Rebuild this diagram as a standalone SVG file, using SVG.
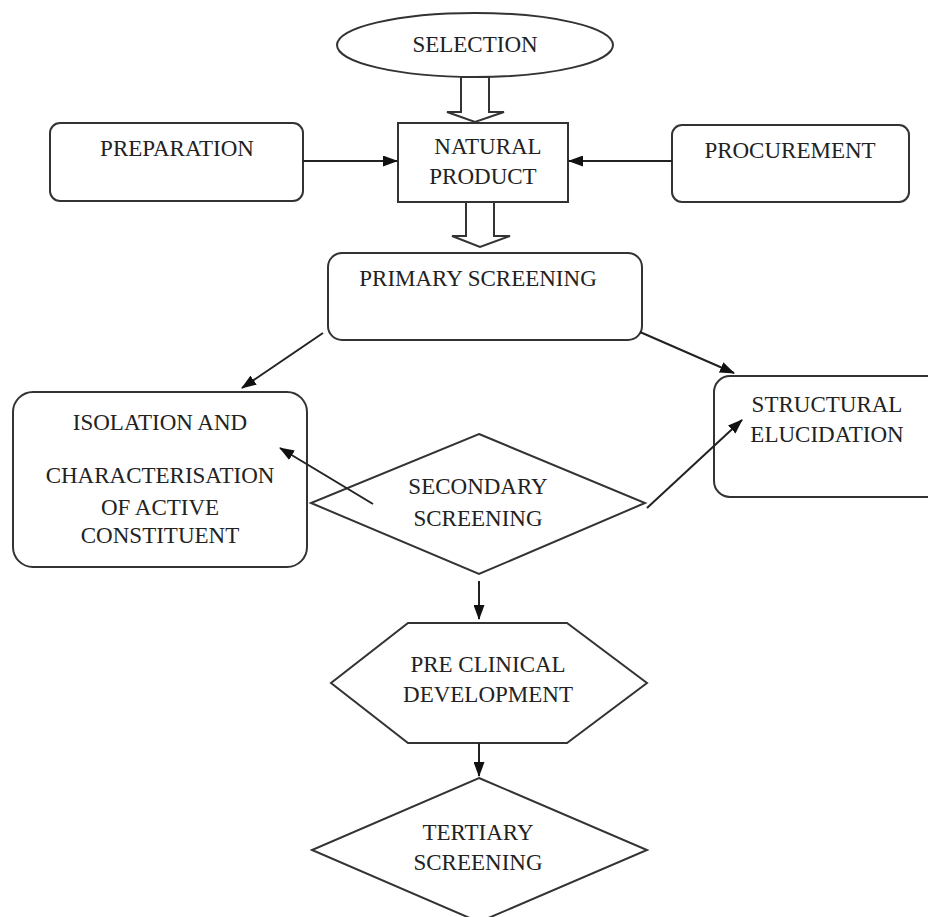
<svg xmlns="http://www.w3.org/2000/svg" width="928" height="917" viewBox="0 0 928 917">
<defs>
<style>
.s{fill:#fff;stroke:#333;stroke-width:2}
.c{fill:none;stroke:#222;stroke-width:2}
.h{fill:#fff;stroke:#333;stroke-width:2;stroke-linejoin:miter}
text{font-family:"Liberation Serif","Times New Roman",serif;font-size:23px;fill:#222;text-anchor:middle}
</style>
<marker id="ah" viewBox="0 0 15 11" refX="14" refY="5.5" markerWidth="15" markerHeight="11" markerUnits="userSpaceOnUse" orient="auto">
<path d="M0,0 L15,5.5 L0,11 Z" fill="#111"/>
</marker>
</defs>
<rect width="928" height="917" fill="#fff"/>
<g id="selection">
<ellipse class="s" cx="475" cy="45" rx="138" ry="32"/>
<text x="475" y="52">SELECTION</text>
</g>
<g id="natural-product">
<rect class="s" x="398" y="123" width="170" height="79"/>
<text x="488" y="154">NATURAL</text>
<text x="483" y="184">PRODUCT</text>
</g>
<g id="preparation">
<rect class="s" x="50" y="123" width="253" height="78" rx="10"/>
<text x="177" y="156">PREPARATION</text>
</g>
<g id="procurement">
<rect class="s" x="672" y="125" width="237" height="77" rx="10"/>
<text x="790" y="158">PROCUREMENT</text>
</g>
<g id="primary-screening">
<rect class="s" x="328" y="253" width="314" height="87" rx="14"/>
<text x="478" y="286">PRIMARY SCREENING</text>
</g>
<g id="isolation">
<rect class="s" x="13" y="392" width="294" height="175" rx="20"/>
<text x="160" y="430">ISOLATION AND</text>
<text x="160" y="483">CHARACTERISATION</text>
<text x="160" y="515">OF ACTIVE</text>
<text x="160" y="543">CONSTITUENT</text>
</g>
<g id="structural">
<rect class="s" x="714" y="376" width="230" height="121" rx="16"/>
<text x="827" y="412">STRUCTURAL</text>
<text x="827" y="442">ELUCIDATION</text>
</g>
<g id="secondary-screening">
<polygon class="s" points="479,434 645,503 479,574 311,503"/>
<text x="478" y="494">SECONDARY</text>
<text x="478" y="526">SCREENING</text>
</g>
<g id="pre-clinical">
<polygon class="s" points="408,623 567,623 647,683 567,743 408,743 331,683"/>
<text x="488" y="672">PRE CLINICAL</text>
<text x="488" y="702">DEVELOPMENT</text>
</g>
<g id="tertiary-screening">
<polygon class="s" points="479,778 647,850 479,922 312,850"/>
<text x="478" y="840">TERTIARY</text>
<text x="478" y="870">SCREENING</text>
</g>
<g id="connectors">
<polygon class="h" points="461,77 489,77 489,112 504,112 475,122 447,112 461,112"/>
<polygon class="h" points="466,202 494,202 494,236 510,236 480,247 452,236 466,236"/>
<line class="c" x1="303" y1="161" x2="397" y2="161" marker-end="url(#ah)"/>
<line class="c" x1="672" y1="161" x2="569" y2="161" marker-end="url(#ah)"/>
<line class="c" x1="323" y1="333" x2="242" y2="388" marker-end="url(#ah)"/>
<line class="c" x1="640" y1="332" x2="734" y2="373" marker-end="url(#ah)"/>
<line class="c" x1="373" y1="504" x2="280" y2="448" marker-end="url(#ah)"/>
<line class="c" x1="647" y1="508" x2="742" y2="420" marker-end="url(#ah)"/>
<line class="c" x1="479" y1="581" x2="479" y2="619" marker-end="url(#ah)"/>
<line class="c" x1="479" y1="743" x2="479" y2="776" marker-end="url(#ah)"/>
</g>
</svg>
